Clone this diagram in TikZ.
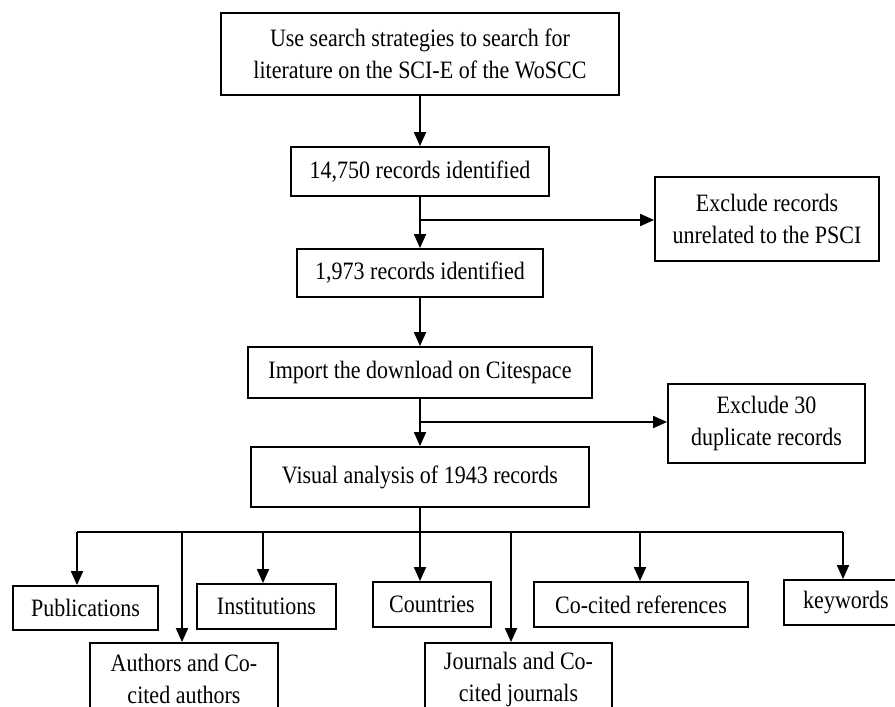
\documentclass[tikz,border=0pt]{standalone}
\usepackage{fontspec}
\setmainfont{Liberation Serif}[FakeStretch=0.88]
\usetikzlibrary{arrows.meta}

\tikzset{
  box/.style={draw, line width=0.9pt, align=center, inner sep=0pt, font=\fontsize{12.5}{16}\selectfont},
  arr/.style={line width=0.9pt, -{Triangle[length=7pt,width=6pt]}},
  line/.style={line width=0.9pt}
}

\begin{document}
\begin{tikzpicture}[x=0.5pt,y=-0.5pt]
    \useasboundingbox (0,0) rectangle (895,707);

    \node[box, minimum width=199pt, minimum height=41pt] (search) at (420,54) {Use search strategies to search for\\literature on the SCI-E of the WoSCC};
    \node[box, minimum width=129pt, minimum height=24.5pt] (found) at (420,171.5) {14,750 records identified};
    \node[box, minimum width=123pt, minimum height=24pt] (kept) at (420,273) {1,973 records identified};
    \node[box, minimum width=172pt, minimum height=25.5pt] (import) at (420,372.5) {Import the download on Citespace};
    \node[box, minimum width=169pt, minimum height=30pt] (visual) at (420,477) {Visual analysis of 1943 records};

    \node[box, minimum width=112pt, minimum height=42pt] (unrel) at (767,219) {Exclude records\\unrelated to the PSCI};
    \node[box, minimum width=98.5pt, minimum height=39.5pt] (dupl) at (766.5,423.5) {Exclude 30\\duplicate records};

    \node[box, minimum width=72.5pt, minimum height=22pt] (pub) at (85.5,608) {Publications};
    \node[box, minimum width=94pt, minimum height=36pt] (auth) at (184,679) {Authors and Co-\\cited authors};
    \node[box, minimum width=69.5pt, minimum height=22.5pt] (inst) at (266.5,606.5) {Institutions};
    \node[box, minimum width=59pt, minimum height=22.5pt] (ctry) at (432,604.5) {Countries};
    \node[box, minimum width=93.5pt, minimum height=36pt] (jour) at (518.5,679) {Journals and Co-\\cited journals};
    \node[box, minimum width=107pt, minimum height=22.5pt] (cref) at (641,604.5) {Co-cited references};
    \node[box, minimum width=62pt, minimum height=22.5pt] (keyw) at (846,602.5) {keywords};

    % main column
    \draw[arr] (search.south) -- (found.north);
    \draw[arr] (found.south) -- (kept.north);
    \draw[arr] (kept.south) -- (import.north);
    \draw[arr] (import.south) -- (visual.north);

    % side branches
    \coordinate (s1) at (420,220);
    \coordinate (s2) at (420,422);
    \draw[arr] (s1) -- (s1 -| unrel.west);
    \draw[arr] (s2) -- (s2 -| dupl.west);

    % bus to the analyses
    \coordinate (bpub) at (77,532);
    \coordinate (bauth) at (182,532);
    \coordinate (binst) at (263,532);
    \coordinate (bctry) at (420,532);
    \coordinate (bjour) at (511,532);
    \coordinate (bcref) at (640,532);
    \coordinate (bkeyw) at (843,532);
    \draw[line] (visual.south) -- (bctry);
    \draw[line] (bpub) -- (bkeyw);
    \draw[arr] (bpub) -- (bpub |- pub.north);
    \draw[arr] (bauth) -- (bauth |- auth.north);
    \draw[arr] (binst) -- (binst |- inst.north);
    \draw[arr] (bctry) -- (bctry |- ctry.north);
    \draw[arr] (bjour) -- (bjour |- jour.north);
    \draw[arr] (bcref) -- (bcref |- cref.north);
    \draw[arr] (bkeyw) -- (bkeyw |- keyw.north);
\end{tikzpicture}
\end{document}
